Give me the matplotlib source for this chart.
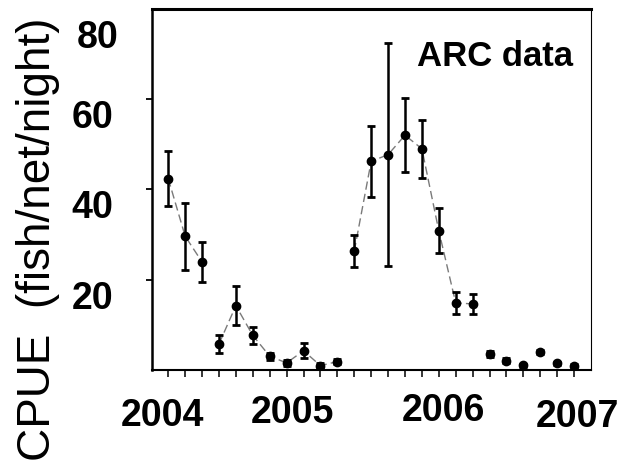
import matplotlib
matplotlib.use("Agg")
import matplotlib.pyplot as plt
import matplotlib.transforms as mtransforms
import numpy as np

# ---- data ----
sample_index = list(range(25))
cpue = [42.4, 29.6, 23.9, 5.7, 14.2, 7.6, 3.0, 1.5, 4.2, 0.9, 1.8,
        26.3, 46.2, 47.7, 52.0, 49.0, 30.8, 14.8, 14.6,
        3.5, 2.0, 1.0, 3.9, 1.4, 0.9]
cpue_err = [6.0, 7.4, 4.4, 2.1, 4.3, 1.9, 0.8, 0.6, 1.7, 0.5, 0.6,
            3.6, 7.8, 24.8, 8.2, 6.4, 5.0, 2.4, 2.3,
            0.6, 0.6, 0.3, 0.5, 0.3, 0.3]
# line drawn between consecutive samples of the same group (None = no line)
line_group = [0, 0, 0, 1, 1, 1, 1, 1, 1, 1, 1,
              2, 2, 2, 2, 2, 2, 2, 2,
              None, None, None, None, None, None]
year_labels = ["2004", "2005", "2006", "2007"]
year_label_pos = [-0.34, 7.37, 16.3, 24.2]
year_label_y = [-0.125, -0.118, -0.112, -0.127]
ytick_vals = [20, 40, 60]
ylabel = "CPUE  (fish/net/night)"
annotation = "ARC data"

plt.rcParams['font.family'] = ['Liberation Sans', 'DejaVu Sans']

fig = plt.figure(figsize=(6.33, 4.64), dpi=100)
ax = fig.add_axes([152/633, 1-370.7/464, (591-152)/633, (370.7-10)/464])

x = np.array(sample_index, dtype=float)
y = np.array(cpue)
e = np.array(cpue_err)

# dashed connecting lines per group
groups = [g for g in dict.fromkeys(line_group) if g is not None]
for g in groups:
    idx = [i for i, gg in enumerate(line_group) if gg == g]
    ax.plot(x[idx], y[idx], linestyle=(0, (6, 3)), color='#7a7a7a', lw=1.0, zorder=1)

ax.errorbar(x, y, yerr=e, fmt='o', color='black', ms=6, elinewidth=1.8,
            capsize=3.2, capthick=2.0, zorder=3)

ax.set_xlim(-0.96, 25.0)
ax.set_ylim(0, 80)

ax.set_xticks(sample_index)
ax.set_xticklabels([])
ax.tick_params(axis='x', direction='out', length=5, width=1.1)

ax.set_yticks(ytick_vals)
ax.set_yticklabels([str(v) for v in ytick_vals], fontsize=27, fontweight='bold',
                   va='top')
ax.tick_params(axis='y', direction='out', length=4, width=1.3, pad=24)
ax.text(-0.0765, 77.8, "80",
        transform=mtransforms.blended_transform_factory(ax.transAxes, ax.transData),
        fontsize=27, fontweight='bold', ha='right', va='top')

for lab, xp, yp in zip(year_labels, year_label_pos, year_label_y):
    ax.text(xp, yp, lab,
            transform=mtransforms.blended_transform_factory(ax.transData, ax.transAxes),
            fontsize=27, fontweight='bold', ha='center', va='center')

ax.text(0.781, 0.872, annotation, transform=ax.transAxes, fontsize=25,
        fontweight='bold', ha='center', va='center')

ax.spines['top'].set_linewidth(2.2)
ax.spines['left'].set_linewidth(1.8)
ax.spines['bottom'].set_linewidth(1.5)
ax.spines['right'].set_linewidth(0.8)

fig.text(38/633, 1-239/464, ylabel, rotation=90, fontsize=33, ha='center', va='center')

fig.savefig("out.png", dpi=100)
